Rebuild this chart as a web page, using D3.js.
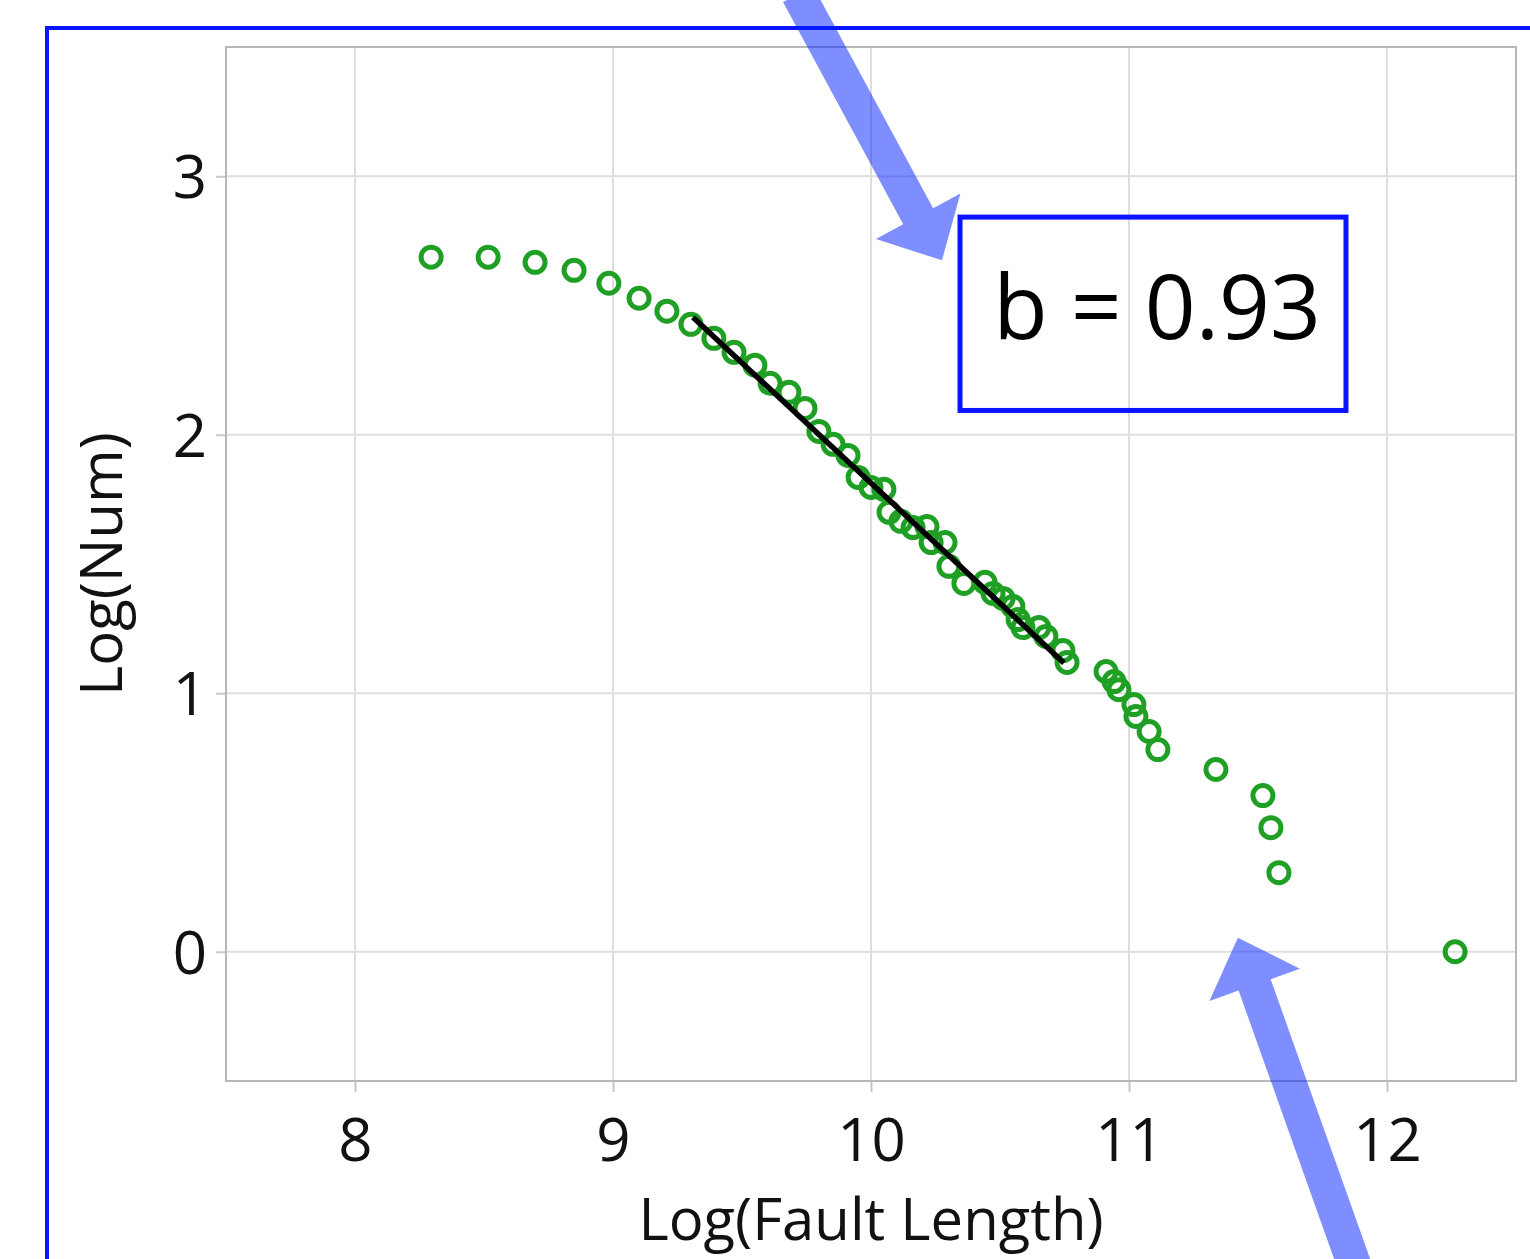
<!DOCTYPE html>
<html>
<head>
<meta charset="utf-8">
<script src="https://cdn.jsdelivr.net/npm/d3@7"></script>
<style>
  html, body { margin: 0; padding: 0; background: #fff; }
  svg { display: block; font-family: "Open Sans", "Noto Sans", sans-serif; }
</style>
</head>
<body>
<div id="chart"></div>
<script>
// Log(Num) vs Log(Fault Length) scatter with fitted power-law slope

const xTicks = [8, 9, 10, 11, 12];
const yTicks = [0, 1, 2, 3];

// points
const logLength = [
  8.295, 8.516, 8.698, 8.849, 8.984, 9.101, 9.209, 9.302, 9.391, 9.469,
  9.550, 9.609, 9.682, 9.744, 9.798, 9.853, 9.911, 9.950, 10.000, 10.050,
  10.070, 10.116, 10.163, 10.217, 10.233, 10.287, 10.302, 10.360, 10.442, 10.473,
  10.512, 10.550, 10.570, 10.589, 10.651, 10.678, 10.744, 10.760, 10.911, 10.942,
  10.961, 11.019, 11.027, 11.078, 11.112, 11.337, 11.519, 11.550, 11.581, 12.264
];
const logNum = [
  2.687, 2.687, 2.667, 2.636, 2.586, 2.528, 2.478, 2.427, 2.373, 2.319,
  2.269, 2.199, 2.164, 2.102, 2.013, 1.963, 1.920, 1.835, 1.796, 1.789,
  1.700, 1.665, 1.641, 1.645, 1.583, 1.583, 1.491, 1.425, 1.429, 1.386,
  1.367, 1.336, 1.285, 1.254, 1.254, 1.220, 1.165, 1.119, 1.084, 1.045,
  1.014, 0.956, 0.910, 0.852, 0.782, 0.705, 0.604, 0.480, 0.306, 0.000
];

// fitted line: logNum = intercept + slope * logLength over fitRange
const fitRange = [9.31, 10.748];
const fitSlope = -0.93;
const fitIntercept = 11.113;
const fitLabel = 'b = 0.93';

// annotation arrows [tail, tip] in data units
const arrowTop = [[9.717, 3.705], [10.275, 2.675]];
const arrowBottom = [[11.880, -1.231], [11.422, 0.054]];
// label box corners in data units
const boxCorners = [[10.345, 2.842], [11.841, 2.094]];

const W = 1530, H = 1259;
const plot = { left: 226, top: 47, right: 1516, bottom: 1081 };

const x = d3.scaleLinear().domain([7.5, 12.5]).range([plot.left, plot.right]);
const y = d3.scaleLinear().domain([-0.5, 3.5]).range([plot.bottom, plot.top]);

const svg = d3.select('#chart').append('svg')
  .attr('width', W).attr('height', H);

// outer blue frame (runs off the right and bottom edges)
svg.append('rect')
  .attr('x', 47).attr('y', 28)
  .attr('width', W + 40).attr('height', H + 40)
  .attr('fill', 'none')
  .attr('stroke', '#0a14ff')
  .attr('stroke-width', 4);

// grid
const grid = svg.append('g').attr('class', 'grid');
grid.selectAll('.gx').data(xTicks).join('line')
  .attr('x1', d => x(d)).attr('x2', d => x(d))
  .attr('y1', plot.top).attr('y2', plot.bottom)
  .attr('stroke', '#dedede').attr('stroke-width', 2);
grid.selectAll('.gy').data(yTicks).join('line')
  .attr('y1', d => y(d)).attr('y2', d => y(d))
  .attr('x1', plot.left).attr('x2', plot.right)
  .attr('stroke', '#dedede').attr('stroke-width', 2);

// axes
const xAxis = svg.append('g')
  .attr('transform', `translate(0,${plot.bottom})`)
  .call(d3.axisBottom(x).tickValues(xTicks).tickSize(11).tickPadding(26).tickFormat(d3.format('d')));
const yAxis = svg.append('g')
  .attr('transform', `translate(${plot.left},0)`)
  .call(d3.axisLeft(y).tickValues(yTicks).tickSize(10).tickPadding(9).tickFormat(d3.format('d')));

for (const ax of [xAxis, yAxis]) {
  ax.select('.domain').remove();
  ax.selectAll('.tick line').attr('stroke', '#c8c8c8').attr('stroke-width', 2);
  ax.selectAll('.tick text')
    .attr('fill', '#111')
    .style('font-size', '60px')
    .style('font-family', '"Open Sans", sans-serif');
}
xAxis.selectAll('.tick text').attr('dy', '0.71em');
yAxis.selectAll('.tick text').attr('dy', '0.36em');

// plot frame
svg.append('rect')
  .attr('x', plot.left).attr('y', plot.top)
  .attr('width', plot.right - plot.left).attr('height', plot.bottom - plot.top)
  .attr('fill', 'none')
  .attr('stroke', '#b8b8b8')
  .attr('stroke-width', 2);

// axis titles
svg.append('text')
  .attr('x', (plot.left + plot.right) / 2).attr('y', 1240)
  .attr('text-anchor', 'middle')
  .style('font-size', '58px')
  .attr('fill', '#111')
  .text('Log(Fault Length)');

svg.append('text')
  .attr('transform', `translate(122,${(plot.top + plot.bottom) / 2}) rotate(-90)`)
  .attr('text-anchor', 'middle')
  .style('font-size', '58px')
  .attr('fill', '#111')
  .text('Log(Num)');

// points
const pts = logLength.map((v, i) => ({ x: v, y: logNum[i] }));
svg.append('g').selectAll('circle').data(pts).join('circle')
  .attr('cx', d => x(d.x)).attr('cy', d => y(d.y))
  .attr('r', 10)
  .attr('fill', 'none')
  .attr('stroke', '#1fa024')
  .attr('stroke-width', 5);

// fitted line
const fit = fitRange.map(v => [x(v), y(fitIntercept + fitSlope * v)]);
svg.append('path')
  .attr('d', d3.line()(fit))
  .attr('stroke', '#000')
  .attr('stroke-width', 5.5)
  .attr('fill', 'none');

// label box
svg.append('rect')
  .attr('x', x(boxCorners[0][0])).attr('y', y(boxCorners[0][1]))
  .attr('width', x(boxCorners[1][0]) - x(boxCorners[0][0]))
  .attr('height', y(boxCorners[1][1]) - y(boxCorners[0][1]))
  .attr('fill', 'none')
  .attr('stroke', '#0a14ff')
  .attr('stroke-width', 5);

svg.append('text')
  .attr('x', (x(boxCorners[0][0]) + x(boxCorners[1][0])) / 2 + 4)
  .attr('y', y(boxCorners[0][1]) + 122)
  .attr('text-anchor', 'middle')
  .style('font-size', '89px')
  .attr('fill', '#000')
  .text(fitLabel);

// block arrows, half-transparent blue
function arrowPath(tail, tip, shaftW, headW, headL) {
  const [x0, y0] = [x(tail[0]), y(tail[1])];
  const [x1, y1] = [x(tip[0]), y(tip[1])];
  const len = Math.hypot(x1 - x0, y1 - y0);
  const ux = (x1 - x0) / len, uy = (y1 - y0) / len;
  const px = -uy, py = ux;
  const nx = x1 - ux * headL, ny = y1 - uy * headL;
  const p = [
    [x0 + px * shaftW / 2, y0 + py * shaftW / 2],
    [nx + px * shaftW / 2, ny + py * shaftW / 2],
    [nx + px * headW / 2, ny + py * headW / 2],
    [x1, y1],
    [nx - px * headW / 2, ny - py * headW / 2],
    [nx - px * shaftW / 2, ny - py * shaftW / 2],
    [x0 - px * shaftW / 2, y0 - py * shaftW / 2]
  ];
  return 'M' + p.map(q => q.join(',')).join('L') + 'Z';
}

for (const [tail, tip] of [arrowTop, arrowBottom]) {
  svg.append('path')
    .attr('d', arrowPath(tail, tip, 34, 96, 50))
    .attr('fill', 'rgba(0, 30, 255, 0.5)')
    .attr('stroke', 'none');
}
</script>
</body>
</html>
